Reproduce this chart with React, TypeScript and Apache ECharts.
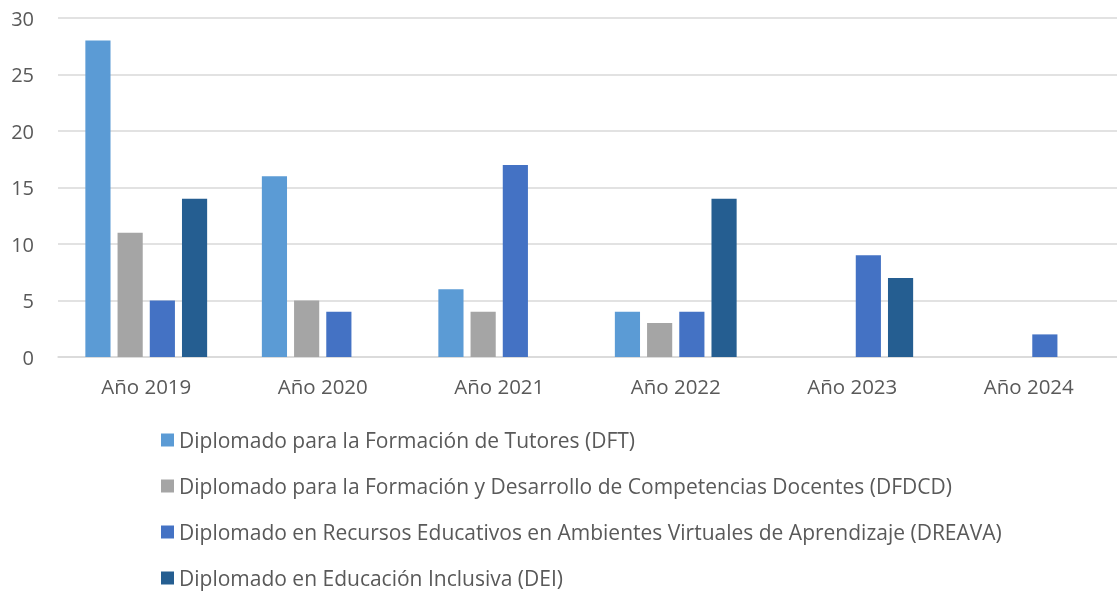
import React, { useEffect, useRef } from "react";
import * as echarts from "echarts";

const categories = ["Año 2019", "Año 2020", "Año 2021", "Año 2022", "Año 2023", "Año 2024"];
const seriesNames = [
  "Diplomado para la Formación de Tutores (DFT)",
  "Diplomado para la Formación y Desarrollo de Competencias Docentes (DFDCD)",
  "Diplomado en Recursos Educativos en Ambientes Virtuales de Aprendizaje (DREAVA)",
  "Diplomado en Educación Inclusiva (DEI)",
];
const dft = [28, 16, 6, 4, null, null];
const dfdcd = [11, 5, 4, 3, null, null];
const dreava = [5, 4, 17, 4, 9, 2];
const dei = [14, null, null, 14, 7, null];
const colors = ["#5B9BD5", "#A5A5A5", "#4472C4", "#255E91"];
const yTicks = { min: 0, max: 30, interval: 5 };

export default function App() {
  const ref = useRef<HTMLDivElement>(null);
  useEffect(() => {
    if (!ref.current) return;
    const chart = echarts.init(ref.current, null, { renderer: "svg" });
    const font = "'Open Sans', 'Noto Sans', sans-serif";
    const data = [dft, dfdcd, dreava, dei];
    chart.setOption({
      animation: false,
      textStyle: { fontFamily: font },
      grid: { left: 58, right: 0, top: 18, bottom: 234, containLabel: false },
      legend: {
        orient: "vertical",
        left: 156,
        top: 424,
        height: 200,
        itemWidth: 13,
        itemHeight: 13,
        itemGap: 24,
        icon: "rect",
        textStyle: { fontSize: 21, color: "#595959", fontFamily: font, lineHeight: 22 },
        data: seriesNames,
      },
      xAxis: {
        type: "category",
        data: categories,
        axisTick: { show: false },
        axisLine: { lineStyle: { color: "#D9D9D9", width: 1.5 } },
        axisLabel: { fontSize: 20.5, color: "#595959", margin: 18, fontFamily: font },
      },
      yAxis: {
        type: "value",
        min: yTicks.min,
        max: yTicks.max,
        interval: yTicks.interval,
        axisLine: { show: false },
        axisTick: { show: false },
        splitLine: { lineStyle: { color: "#D9D9D9", width: 1.5 } },
        axisLabel: { fontSize: 20, color: "#595959", margin: 24, fontFamily: font },
      },
      series: seriesNames.map((name, i) => ({
        name,
        type: "bar",
        data: data[i],
        barGap: "28%",
        barCategoryGap: "31%",
        itemStyle: { color: colors[i] },
      })),
    });
    return () => chart.dispose();
  }, []);
  return <div ref={ref} style={{ position: "fixed", left: 0, top: 0, width: 1117, height: 591 }} />;
}
